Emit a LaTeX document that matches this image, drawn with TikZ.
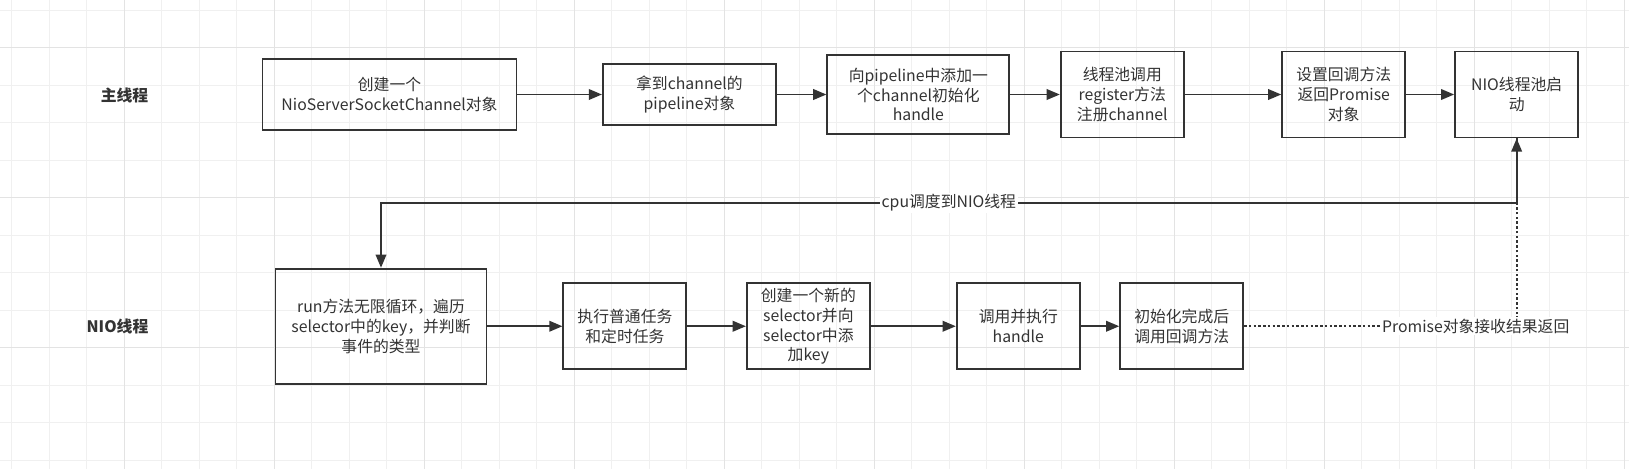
\documentclass[tikz,border=0pt]{standalone}
\usepackage{fontspec}
\setmainfont{Noto Sans CJK SC}
\usepackage{xcolor}
\usepackage{tikz}
\usetikzlibrary{arrows.meta, positioning, calc}

\definecolor{inkGray}{HTML}{333333}
\definecolor{gridMinor}{HTML}{F0F0F0}
\definecolor{gridMajor}{HTML}{E3E3E3}

\begin{document}
\begin{tikzpicture}[>={Triangle[length=7.5pt, width=6pt]}, node distance=1cm,
            box/.style={draw=inkGray, rectangle, line width=1.1pt, align=center, inner sep=2pt,
                text=inkGray, font=\fontsize{9}{11.3}\selectfont},
            smallbox/.style={box, minimum width=2.46cm, minimum height=1.72cm},
            flow/.style={->, draw=inkGray, line width=1.1pt},
            lane/.style={text=inkGray, font=\fontsize{9}{11.3}\selectfont\bfseries},
            edgelabel/.style={fill=white, inner sep=1pt, text=inkGray, font=\fontsize{9}{11.3}\selectfont}]

            \fill[white] (0,0) rectangle (32.58,-9.38);
            \useasboundingbox (0,0) rectangle (32.58,-9.38);
            \foreach \i in {0,...,43}
                \draw[gridMinor] (0.23+0.75*\i,0) -- (0.23+0.75*\i,-9.38);
            \foreach \j in {0,...,12}
                \draw[gridMinor] (0,-0.2-0.75*\j) -- (32.58,-0.2-0.75*\j);
            \foreach \i in {3,7,...,43}
                \draw[gridMajor] (0.23+0.75*\i,0) -- (0.23+0.75*\i,-9.38);
            \foreach \j in {1,5,9}
                \draw[gridMajor] (0,-0.2-0.75*\j) -- (32.58,-0.2-0.75*\j);

            \node[lane] (mainLane) at (2.49,-1.9) {主线程};
            \node[lane] (nioLane) at (2.35,-6.53) {NIO线程};

            \node[box, minimum width=5.08cm, minimum height=1.41cm] (createChannel) at (7.79,-1.89) {创建一个\\NioServerSocketChannel对象};
            \node[box, minimum width=3.46cm, minimum height=1.22cm, right=1.69cm of createChannel] (getPipeline) {拿到channel的\\pipeline对象};
            \node[box, minimum width=3.64cm, minimum height=1.57cm, right=0.99cm of getPipeline] (addInit) {向pipeline中添加一\\个channel初始化\\handle};
            \node[smallbox, right=0.99cm of addInit] (registerChannel) {线程池调用\\register方法\\注册channel};
            \node[smallbox, right=1.93cm of registerChannel] (setCallback) {设置回调方法\\返回Promise\\对象};
            \node[smallbox, right=0.96cm of setCallback] (startNio) {NIO线程池启\\动};

            \node[box, minimum width=4.22cm, minimum height=2.3cm] (runLoop) at (7.62,-6.525) {run方法无限循环，遍历\\selector中的key，并判断\\事件的类型};
            \node[smallbox, right=1.5cm of runLoop] (runTasks) {执行普通任务\\和定时任务};
            \node[smallbox, right=1.17cm of runTasks] (newSelector) {创建一个新的\\selector并向\\selector中添\\加key};
            \node[smallbox, right=1.7cm of newSelector] (callHandle) {调用并执行\\handle};
            \node[smallbox, right=0.77cm of callHandle] (initDone) {初始化完成后\\调用回调方法};

            \draw[flow] (createChannel.east) -- (getPipeline.west);
            \draw[flow] (getPipeline.east) -- (addInit.west);
            \draw[flow] (addInit.east) -- (registerChannel.west);
            \draw[flow] (registerChannel.east) -- (setCallback.west);
            \draw[flow] (setCallback.east) -- (startNio.west);

            \draw[flow] (runLoop.east) -- (runTasks.west);
            \draw[flow] (runTasks.east) -- (newSelector.west);
            \draw[flow] (newSelector.east) -- (callHandle.west);
            \draw[flow] (callHandle.east) -- (initDone.west);

            \coordinate (promiseTurn) at ($(startNio.south |- initDone.east)$);
            \coordinate (cpuTurn) at ($(startNio.south)+(0,-1.29)$);

            \draw[flow, dash pattern=on 1.4pt off 1.3pt] (initDone.east) -- (promiseTurn) -- (startNio.south);
            \node[edgelabel] (promiseLabel) at ($(promiseTurn)+(-0.82,0)$) {Promise对象接收结果返回};

            \draw[flow] (startNio.south) -- (cpuTurn) -| node[edgelabel, pos=0.25] (cpuLabel) {cpu调度到NIO线程} (runLoop.north);
        \end{tikzpicture}
\end{document}
